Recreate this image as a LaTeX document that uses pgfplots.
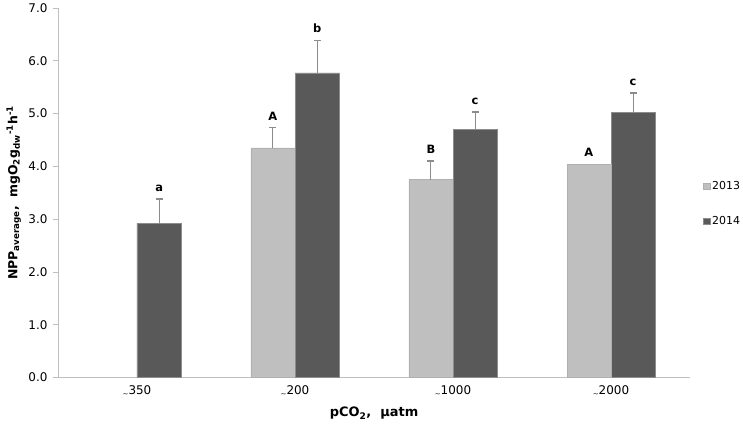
\documentclass[border=0pt]{standalone}
\usepackage{pgfplots}
\pgfplotsset{compat=1.18}
\usepackage{fontspec}
\setmainfont{DejaVu Sans}
\definecolor{c13}{HTML}{BFBFBF}
\definecolor{c14}{HTML}{595959}
\definecolor{axgray}{HTML}{BFBFBF}
\definecolor{errgray}{HTML}{8C8C8C}
\begin{document}
\begin{tikzpicture}
\useasboundingbox (-58bp,-48.5bp) rectangle (685bp,377.5bp);
\begin{axis}[
  scale only axis, width=632bp, height=369.5bp,
  xmin=-0.5, xmax=3.5, ymin=0, ymax=7,
  clip=false,
  axis x line=bottom, axis y line=left,
  axis line style={-, draw=axgray, line width=0.8pt},
  ytick={0,1,...,7},
  yticklabel={\pgfmathprintnumber[fixed,fixed zerofill,precision=1]{\tick}},
  /pgf/number format/assume math mode=true,
  xtick={0,1,2,3},
  xticklabels={{\raisebox{-0.3ex}{\scriptsize\textasciitilde}350},{\raisebox{-0.3ex}{\scriptsize\textasciitilde}200},{\raisebox{-0.3ex}{\scriptsize\textasciitilde}1000},{\raisebox{-0.3ex}{\scriptsize\textasciitilde}2000}},
  major x tick style={draw=none},
  y tick style={draw=axgray, line width=0.8pt},
  tick align=outside, major tick length=5bp,
  every tick label/.append style={font=\fontsize{12}{14}\selectfont},
  yticklabel style={xshift=-2bp},
  xlabel={\textbf{pCO\textsubscript{2},\ \ µatm}},
  ylabel={\textbf{NPP\textsubscript{average},\ \ mgO\textsubscript{2}g\textsubscript{dw}\textsuperscript{-1}h\textsuperscript{-1}}},
  every axis x label/.style={at={(axis description cs:0.5,-0.096)}, anchor=center, font=\fontsize{13}{15}\selectfont},
  every axis y label/.style={at={(axis description cs:-0.070,0.5)}, rotate=90, anchor=center, font=\fontsize{12.5}{15}\selectfont},
  legend style={at={(1.016,0.47)}, anchor=west, draw=none, fill=none, row sep=22bp, font=\fontsize{11}{13}\selectfont},
  legend cell align=left,
  ybar, bar width=0.28, bar shift=0pt,
  legend image code/.code={\fill[#1] (0bp,-3bp) rectangle (6.5bp,3bp);},
  error bars/y dir=plus, error bars/y explicit,
  error bars/error mark=|,
  error bars/error bar style={draw=errgray, line width=1.2pt},
  error bars/error mark options={draw=errgray, mark size=3.5bp, line width=1.2pt},
]
\addplot[fill=c13, draw=c13!92!black]
  coordinates {(0.86,4.35) +- (0,0.38) (1.86,3.75) +- (0,0.35)};
\addlegendentry{2013}
\addplot[fill=c14, draw=errgray]
  coordinates {(0.14,2.92) +- (0,0.46) (1.14,5.77) +- (0,0.62) (2.14,4.70) +- (0,0.33) (3.14,5.02) +- (0,0.37)};
\addlegendentry{2014}
\addplot[fill=c13, draw=c13!92!black, forget plot, error bars/y dir=none]
  coordinates {(2.86,4.05)};
\begin{scope}[every node/.style={anchor=base, yshift=7.5bp, font=\bfseries\fontsize{11.5}{13}\selectfont, inner sep=0pt}]
\node at (axis cs:0.14,3.38) {a};
\node at (axis cs:0.86,4.73) {A};
\node at (axis cs:1.14,6.39) {b};
\node at (axis cs:1.86,4.10) {B};
\node at (axis cs:2.14,5.03) {c};
\node at (axis cs:2.86,4.05) {A};
\node at (axis cs:3.14,5.39) {c};
\end{scope}
\end{axis}
\end{tikzpicture}
\end{document}
